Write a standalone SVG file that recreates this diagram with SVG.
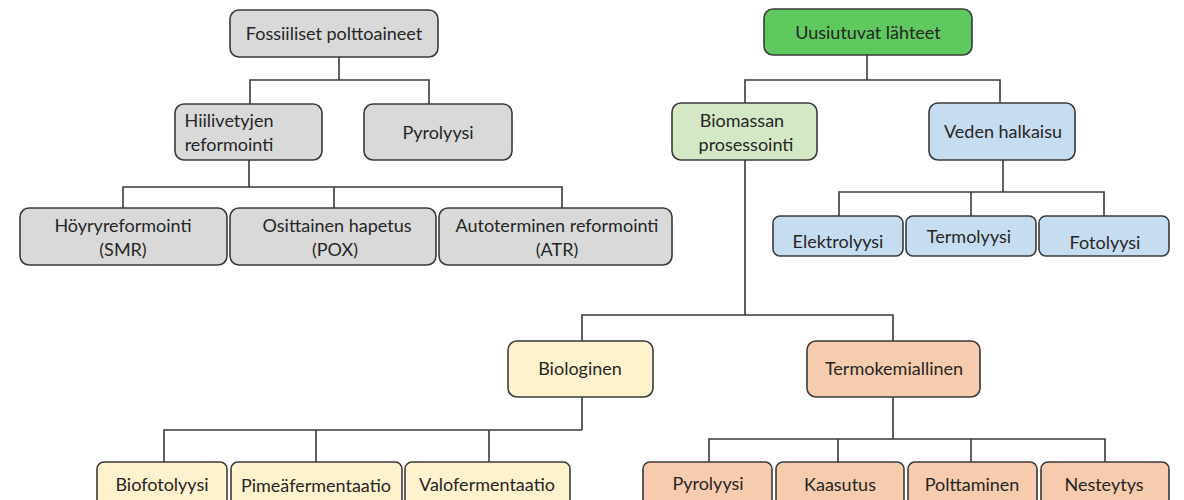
<svg xmlns="http://www.w3.org/2000/svg" width="1184" height="500" viewBox="0 0 1184 500">
<style>
.n{stroke:#3a3a3a;stroke-width:1.6}
.g{fill:#d9d9d9}.tg{fill:#5fc95f}.lg{fill:#d5e8c6}.b{fill:#c6dcf0}.y{fill:#fff2cc}.o{fill:#f7cbad}
text{font-family:Lato,"Liberation Sans",sans-serif;font-size:18px;fill:#262626;text-anchor:middle}
.c{fill:none;stroke:#3a3a3a;stroke-width:1.6}
</style>
<rect width="1184" height="500" fill="#fff"/>
<g id="connectors" class="c">
<path d="M339 57V80M250 104V80H429V104"/>
<path d="M249 160V187M123 208V187H562V208M334 187V208"/>
<path d="M867 55V80M745 103V80H1000V103"/>
<path d="M1003 160V192M839 216V192H1104V216M971 192V216"/>
<path d="M745 160V315M582 341V315H893V341"/>
<path d="M582 397V430M164 462V430H582M316 430V462M489 430V462"/>
<path d="M893 397V439M709 462V439H1105V462M838 439V462M971 439V462"/>
</g>
<g id="fossiiliset"><rect class="n g" x="230" y="10" width="208" height="47" rx="9"/><text x="334" y="40">Fossiiliset polttoaineet</text></g>
<g id="hiilivetyjen"><rect class="n g" x="175" y="104" width="147" height="56" rx="9"/><text x="229" y="127">Hiilivetyjen</text><text x="229" y="151">reformointi</text></g>
<g id="pyrolyysi1"><rect class="n g" x="364" y="104" width="148" height="56" rx="9"/><text x="438" y="139">Pyrolyysi</text></g>
<g id="hoyry"><rect class="n g" x="20" y="208" width="207" height="57" rx="9"/><text x="123" y="232">Höyryreformointi</text><text x="123" y="256">(SMR)</text></g>
<g id="osittainen"><rect class="n g" x="230" y="208" width="206" height="57" rx="9"/><text x="337" y="232">Osittainen hapetus</text><text x="335" y="256">(POX)</text></g>
<g id="autoterminen"><rect class="n g" x="439" y="208" width="233" height="57" rx="9"/><text x="557" y="232">Autoterminen reformointi</text><text x="557" y="256">(ATR)</text></g>
<g id="uusiutuvat"><rect class="n tg" x="764" y="9" width="208" height="46" rx="9"/><text x="868" y="39">Uusiutuvat lähteet</text></g>
<g id="biomassan"><rect class="n lg" x="672" y="103" width="145" height="57" rx="9"/><text x="742" y="127">Biomassan</text><text x="746" y="151">prosessointi</text></g>
<g id="veden"><rect class="n b" x="929" y="103" width="146" height="57" rx="9"/><text x="1003" y="138">Veden halkaisu</text></g>
<g id="elektrolyysi"><rect class="n b" x="773" y="216" width="130" height="40" rx="7"/><text x="838" y="248">Elektrolyysi</text></g>
<g id="termolyysi"><rect class="n b" x="906" y="216" width="130" height="40" rx="7"/><text x="969" y="243">Termolyysi</text></g>
<g id="fotolyysi"><rect class="n b" x="1039" y="216" width="130" height="40" rx="7"/><text x="1105" y="249">Fotolyysi</text></g>
<g id="biologinen"><rect class="n y" x="508" y="341" width="145" height="56" rx="9"/><text x="580" y="375">Biologinen</text></g>
<g id="termokemiallinen"><rect class="n o" x="807" y="341" width="173" height="56" rx="9"/><text x="894" y="375">Termokemiallinen</text></g>
<g id="biofotolyysi"><rect class="n y" x="97" y="462" width="130" height="46" rx="7"/><text x="162" y="491">Biofotolyysi</text></g>
<g id="pimea"><rect class="n y" x="231" y="462" width="171" height="46" rx="7"/><text x="316" y="492">Pimeäfermentaatio</text></g>
<g id="valo"><rect class="n y" x="405" y="462" width="165" height="46" rx="7"/><text x="487" y="491">Valofermentaatio</text></g>
<g id="pyrolyysi2"><rect class="n o" x="643" y="462" width="129" height="46" rx="7"/><text x="708" y="490">Pyrolyysi</text></g>
<g id="kaasutus"><rect class="n o" x="776" y="462" width="128" height="46" rx="7"/><text x="840" y="491">Kaasutus</text></g>
<g id="polttaminen"><rect class="n o" x="908" y="462" width="129" height="46" rx="7"/><text x="972" y="491">Polttaminen</text></g>
<g id="nesteytys"><rect class="n o" x="1041" y="462" width="128" height="46" rx="7"/><text x="1104" y="491">Nesteytys</text></g>
</svg>
